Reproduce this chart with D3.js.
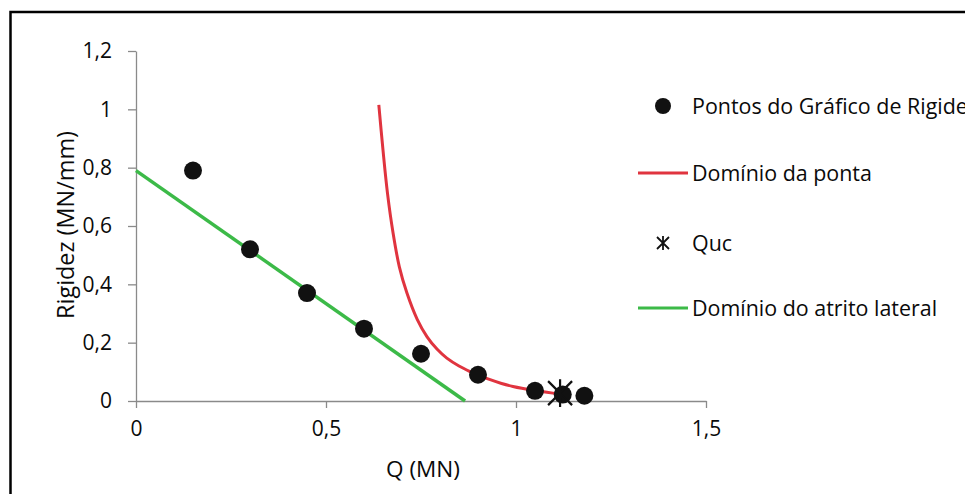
<!DOCTYPE html>
<html><head><meta charset="utf-8">
<script src="https://cdn.jsdelivr.net/npm/d3@7"></script>
<style>html,body{margin:0;padding:0;background:#fff;overflow:hidden}</style>
</head><body>
<svg id="c" width="965" height="494"></svg>
<script>
// Data
const qPoints = [0.15, 0.30, 0.45, 0.60, 0.75, 0.90, 1.05, 1.123, 1.18];
const rigPoints = [0.79, 0.52, 0.37, 0.248, 0.162, 0.09, 0.035, 0.022, 0.018];
const pontaQ = [0.639, 0.650, 0.662, 0.676, 0.693, 0.713, 0.740, 0.766, 0.792, 0.818, 0.850, 0.879, 0.900, 0.932, 0.962, 0.992, 1.045, 1.097, 1.134];
const pontaR = [1.015, 0.86, 0.71, 0.58, 0.46, 0.37, 0.28, 0.22, 0.178, 0.147, 0.12, 0.101, 0.089, 0.073, 0.060, 0.050, 0.037, 0.027, 0.021];
const atritoQ = [0, 0.866];
const atritoR = [0.79, 0];
const qucQ = [1.116];
const qucR = [0.027];
const xTicks = [0, 0.5, 1, 1.5];
const yTicks = [0, 0.2, 0.4, 0.6, 0.8, 1, 1.2];
const legendLabels = ["Pontos do Gráfico de Rigidez", "Domínio da ponta", "Quc", "Domínio do atrito lateral"];

const svg = d3.select("#c");
const font = "'Open Sans', sans-serif";
const axisColor = "#8a8a8a";
const red = "#e0343f", green = "#3cba48";
const ink = "#0a0a0a";

function fit(sel, target) {
  const w = sel.node().getComputedTextLength();
  const fs = parseFloat(sel.attr("font-size"));
  sel.attr("font-size", fs * target / w);
}

// frame
svg.append("rect").attr("x", 10.5).attr("y", 12).attr("width", 1000).attr("height", 600)
  .attr("fill", "none").attr("stroke", "#000").attr("stroke-width", 2.5);

const x = d3.scaleLinear().domain([0, 1.5]).range([136, 706]);
const y = d3.scaleLinear().domain([0, 1.2]).range([401, 51]);
const fmt = d => String(d).replace(".", ",");

const gx = svg.append("g").attr("transform", "translate(0,401)")
  .call(d3.axisBottom(x).tickValues(xTicks).tickFormat(fmt).tickSize(7).tickSizeOuter(0).tickPadding(13));
const gy = svg.append("g").attr("transform", "translate(136,0)")
  .call(d3.axisLeft(y).tickValues(yTicks).tickFormat(fmt).tickSize(8).tickSizeOuter(0).tickPadding(16));
[gx, gy].forEach(g => {
  g.attr("font-size", null).attr("font-family", null);
  g.selectAll("path,line").attr("stroke", axisColor).attr("stroke-width", 1.3);
  g.selectAll("text").attr("font-family", font).attr("font-size", 21).attr("fill", ink);
});

const xt = svg.append("text").attr("x", 423).attr("y", 477).attr("text-anchor", "middle")
  .attr("font-family", font).attr("font-size", 20).attr("fill", ink).text("Q (MN)");
fit(xt, 74);
const yt = svg.append("text").attr("transform", "translate(74,225) rotate(-90)").attr("text-anchor", "middle")
  .attr("font-family", font).attr("font-size", 20).attr("fill", ink).text("Rigidez (MN/mm)");
fit(yt, 188);

const line = d3.line().x(d => x(d[0])).y(d => y(d[1]));
svg.append("path").datum(d3.zip(atritoQ, atritoR)).attr("d", line)
  .attr("fill", "none").attr("stroke", green).attr("stroke-width", 3.5);
svg.append("path").datum(d3.zip(pontaQ, pontaR)).attr("d", line.curve(d3.curveCatmullRom))
  .attr("fill", "none").attr("stroke", red).attr("stroke-width", 3);

svg.append("g").selectAll("circle").data(d3.zip(qPoints, rigPoints)).join("circle")
  .attr("cx", d => x(d[0])).attr("cy", d => y(d[1])).attr("r", 9).attr("fill", "#111");

function star(g, cx, cy, s, w) {
  const p = `M${cx - s},${cy - s}L${cx + s},${cy + s}M${cx - s},${cy + s}L${cx + s},${cy - s}M${cx},${cy - s * 1.15}L${cx},${cy + s * 1.15}`;
  g.append("path").attr("d", p).attr("stroke", "#111").attr("stroke-width", w).attr("fill", "none");
}
d3.zip(qucQ, qucR).forEach(d => star(svg, x(d[0]), y(d[1]), 12, 2.2));

// legend
const lg = svg.append("g");
const ly = [106, 173, 243, 308];
lg.append("circle").attr("cx", 663).attr("cy", ly[0]).attr("r", 8).attr("fill", "#111");
lg.append("line").attr("x1", 638).attr("x2", 688).attr("y1", ly[1]).attr("y2", ly[1]).attr("stroke", red).attr("stroke-width", 3);
star(lg, 663, ly[2], 6, 1.8);
lg.append("line").attr("x1", 638).attr("x2", 688).attr("y1", ly[3]).attr("y2", ly[3]).attr("stroke", green).attr("stroke-width", 3);
let fs = 20;
legendLabels.forEach((t, i) => {
  const tx = lg.append("text").attr("x", 692).attr("y", ly[i] + 8)
    .attr("font-family", font).attr("font-size", 20).attr("fill", ink).text(t);
  if (i === 1) { fit(tx, 180); fs = +tx.attr("font-size"); }
});
lg.selectAll("text").attr("font-size", fs);
</script>
</body></html>
